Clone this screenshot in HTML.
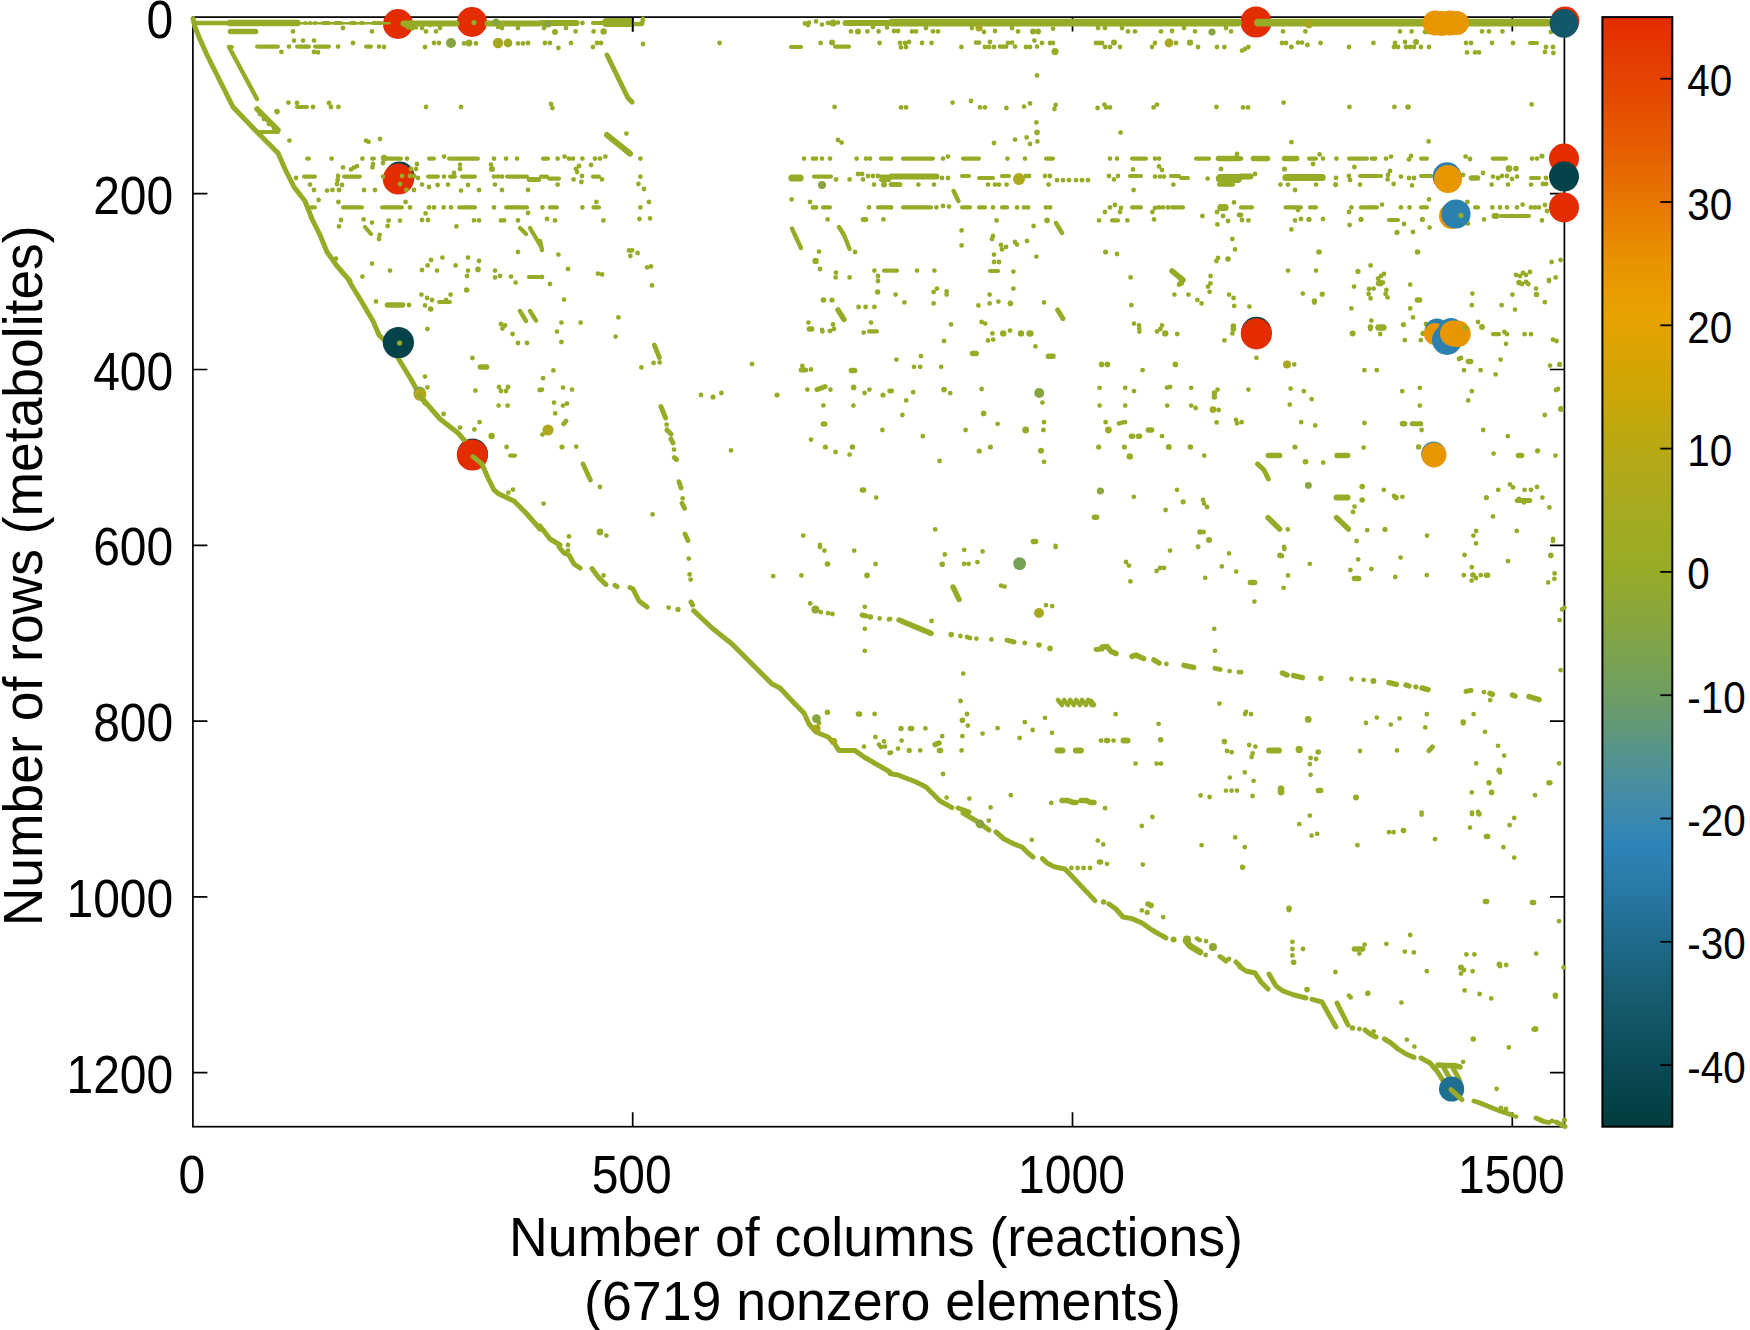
<!DOCTYPE html>
<html><head><meta charset="utf-8"><title>spy</title>
<style>html,body{margin:0;padding:0;background:#fff;}
svg{display:block;font-family:"Liberation Sans",sans-serif;}
text{fill:#000;}</style></head>
<body><svg width="1750" height="1330" viewBox="0 0 1750 1330">
<rect width="1750" height="1330" fill="#fff"/>
<rect x="192.9" y="17.1" width="1371.5" height="1109.6000000000001" fill="none" stroke="#000" stroke-width="1.7"/>
<path d="M632.7 1126.7v-14.5M632.7 17.1v14.5" stroke="#000" stroke-width="1.7"/>
<path d="M1072.5 1126.7v-14.5M1072.5 17.1v14.5" stroke="#000" stroke-width="1.7"/>
<path d="M1512.3 1126.7v-14.5M1512.3 17.1v14.5" stroke="#000" stroke-width="1.7"/>
<path d="M192.9 193.7h14.5M1564.4 193.7h-14.5" stroke="#000" stroke-width="1.7"/>
<path d="M192.9 369.5h14.5M1564.4 369.5h-14.5" stroke="#000" stroke-width="1.7"/>
<path d="M192.9 545.3h14.5M1564.4 545.3h-14.5" stroke="#000" stroke-width="1.7"/>
<path d="M192.9 721.1h14.5M1564.4 721.1h-14.5" stroke="#000" stroke-width="1.7"/>
<path d="M192.9 896.9h14.5M1564.4 896.9h-14.5" stroke="#000" stroke-width="1.7"/>
<path d="M192.9 1072.7h14.5M1564.4 1072.7h-14.5" stroke="#000" stroke-width="1.7"/>
<circle cx="398.0" cy="24.0" r="15.0" fill="#e32c00"/>
<circle cx="472.0" cy="22.0" r="15.0" fill="#e32c00"/>
<circle cx="399.6" cy="176.6" r="15.0" fill="#04434a"/>
<circle cx="398.4" cy="179.0" r="15.6" fill="#e32c00"/>
<circle cx="1256.0" cy="22.0" r="15.6" fill="#e32c00"/>
<circle cx="1565.0" cy="21.0" r="14.4" fill="#e32c00"/>
<circle cx="1564.0" cy="158.6" r="15.0" fill="#e32c00"/>
<circle cx="1564.0" cy="207.4" r="15.0" fill="#e32c00"/>
<circle cx="472.6" cy="453.8" r="15.4" fill="#04434a"/>
<circle cx="1256.4" cy="332.0" r="15.2" fill="#04434a"/>
<circle cx="1433.6" cy="454.0" r="12.4" fill="#2c80b0"/>
<path d="M193.0 18.6L195.0 27.0L199.0 37.0L207.0 55.0L220.0 81.0L233.0 107.0L257.0 132.0L278.0 153.0L285.0 169.0L294.0 187.0L305.0 201.0L312.0 219.0L320.0 235.0L327.0 252.0L337.0 266.0L350.0 281.0M405.2 25.0H414.8M529.2 179.4H538.8M607.0 55.0L628.0 98.0L632.0 102.0M863.2 219.4H865.8M891.2 184.6H899.8M349.0 281.0L360.0 299.0L373.0 321.0L379.0 335.0L385.0 341.0M398.0 358.0L412.0 381.0L420.0 396.0L440.0 419.0L458.0 433.0L465.0 441.0M540.0 526.0L550.0 539.0L560.0 545.0M661.0 406.6L665.6 418.0M667.0 430.0L671.0 434.0M671.0 439.0L673.0 443.0M674.4 457.6L676.6 459.6M817.0 389.6L825.0 386.6M801.2 370.0H805.8M1057.6 310.0L1063.0 318.6M1257.6 464.0L1264.0 470.0L1268.4 479.0M1412.2 423.8H1420.8M1517.2 500.4H1529.8M559.0 547.0L564.0 553.0L569.0 555.0L574.0 564.0L580.0 568.0M592.0 568.6L599.0 578.0L606.0 584.6M615.0 585.4L617.0 586.6M630.0 587.6L633.0 589.0L639.0 601.0L647.0 607.0M691.0 602.0L692.6 605.0M693.6 610.6L712.0 628.0L732.0 644.0L752.0 664.0L772.0 684.0L780.0 688.0L794.0 703.0L804.0 713.0L809.0 724.0L816.0 732.0L828.0 737.0L834.0 743.0L839.0 750.6L855.0 750.6L864.0 757.0L890.0 772.0M862.0 615.0L866.0 616.0M1007.0 640.2L1014.0 642.0M1096.0 649.4L1102.0 649.0M1215.0 668.4L1220.0 669.4M890.0 773.6L898.0 775.0L916.0 782.0L926.0 787.0L940.0 801.0L952.0 807.6M958.0 808.0L969.0 812.0M1466.0 691.4L1471.0 690.4M1429.0 750.6L1432.4 747.0M963.0 813.0L978.0 822.0L989.0 830.0M996.0 832.0L1004.0 839.0L1014.0 844.0L1022.0 847.0L1028.0 853.0L1033.0 857.0M1042.4 858.6L1047.0 863.0L1054.0 866.6L1060.0 868.0L1065.0 869.0L1095.0 900.6M1109.0 904.0L1116.0 909.0L1123.0 917.0L1132.0 918.6L1142.0 923.0L1152.0 930.0L1160.0 934.6L1166.0 938.0M1220.0 956.6L1226.0 961.0M1236.0 962.0L1240.0 966.0M1240.0 967.0L1246.0 971.0L1255.0 973.0L1261.0 982.0L1268.0 989.0M1269.0 974.0L1276.0 986.0L1283.0 991.0L1294.0 995.0L1306.0 998.0M1312.0 999.4L1322.0 1002.0L1328.0 1013.0L1336.0 1027.0M1337.0 1003.0L1348.0 1025.0M1365.0 1030.0L1370.0 1034.0L1376.0 1037.0M1384.4 1039.0L1391.0 1043.0L1398.0 1049.0L1406.0 1054.0L1414.0 1057.4M1421.0 1058.0L1430.0 1063.0L1437.0 1071.0L1442.0 1079.0M1444.0 1068.0L1450.0 1079.0M1453.0 1068.0L1459.0 1079.0M1442.0 1079.0L1446.0 1086.0M1450.0 1079.0L1452.0 1084.0M1459.0 1079.0L1460.0 1082.0M1474.0 1101.0L1480.0 1103.0L1500.0 1111.0L1512.0 1115.0M1536.0 1118.0L1544.0 1121.6L1549.0 1122.4M1556.0 1122.0L1565.0 1126.4" fill="none" stroke="#97ab27" stroke-width="5.0" stroke-linecap="round" stroke-linejoin="round"/>
<path d="M229.0 47.0L257.0 99.0M194.1 23.0H226.9M792.0 228.6L801.0 248.0M839.0 227.0L844.0 235.0L849.6 249.0M540.0 241.0L542.0 250.0M632.0 24.0L642.0 24.0L643.0 18.6M953.6 191.0L958.4 201.0M1056.0 223.0L1062.0 233.0M520.0 311.0L526.0 321.0M530.0 311.0L536.0 320.6" fill="none" stroke="#97ab27" stroke-width="4.4" stroke-linecap="round" stroke-linejoin="round"/>
<path d="M257.0 109.0L278.0 130.0M230.4 31.4H255.6M1172.0 271.0L1183.0 280.0M1218.4 158.6H1238.6M1253.4 158.6H1267.6M1284.4 158.6H1296.6M1471.4 178.0H1477.6M387.4 305.0H402.6M480.4 367.0H486.6M838.0 310.0L844.0 319.4M823.4 300.0H823.6M809.4 329.0H811.6M851.4 370.4H854.6M823.4 424.0H824.6M862.4 490.0H863.6M972.4 353.4H976.2M1048.4 356.2H1053.0M1033.4 541.6H1035.6M1148.4 430.0H1151.6M1131.4 436.2H1132.6M1138.4 436.2H1139.6M1094.4 517.2H1096.6M1268.0 517.6L1279.6 529.0M1336.4 517.6L1348.4 529.0M1268.4 455.6H1279.6M1305.4 461.8H1305.6M1417.4 300.0H1419.6M1536.4 294.6H1536.6M1468.4 361.4H1470.6M1402.4 423.8H1404.6M1337.0 455.6H1347.6M1518.4 455.6H1521.6M827.4 564.0H827.6M858.4 714.0H859.6M953.0 587.0L959.0 599.4M899.0 620.0L931.0 633.4M1102.0 647.0L1107.0 646.4L1111.0 651.4L1116.0 653.6M1132.0 656.4L1136.0 655.0L1140.0 657.0L1143.6 658.6M1154.0 660.0L1159.0 663.0M1184.0 665.4L1193.6 667.4M935.0 744.6L939.0 743.0M1062.0 800.6L1068.0 800.6L1073.0 802.4L1076.0 802.4M1081.0 800.6L1087.0 800.6L1090.0 802.4L1094.0 802.4M901.0 728.4H901.0M910.4 728.4H911.6M939.4 750.4H940.6M1106.4 740.6H1107.6M1282.4 673.0L1287.0 675.0M1293.6 675.6L1302.4 677.6M1389.0 682.6L1396.4 684.4M1406.0 685.0L1409.0 686.0M1422.0 688.0L1428.0 689.6M1490.0 693.4L1492.4 694.4M1512.4 695.0L1515.0 696.0M1529.0 696.6L1539.0 699.6M1250.4 582.4H1254.6M1354.4 578.6H1358.6M1486.4 575.2H1487.6M1318.4 790.6H1320.6M1099.4 862.0H1100.6M1438.0 1065.0L1446.0 1065.4L1454.0 1065.4L1460.0 1067.0M1242.6 867.2H1242.6M1403.4 830.6H1403.6M1486.4 836.6H1487.6M1485.4 901.4H1486.6M1532.4 902.4H1533.6M1354.4 949.0H1362.6" fill="none" stroke="#97ab27" stroke-width="5.5" stroke-linecap="round" stroke-linejoin="round"/>
<path d="M365.0 227.0L371.0 234.0M520.0 228.0L526.0 234.0M530.0 228.0L540.0 245.0M305.2 23.0H305.2M310.2 23.0H310.2M315.2 23.0H315.2M323.1 23.0H328.9M335.1 23.0H340.9M351.1 23.0H354.9M361.1 23.0H362.9M373.1 23.0H380.9M257.1 46.6H277.9M297.1 46.6H308.9M315.1 46.6H328.9M366.1 46.6H370.9M230.1 47.0H231.9M297.1 107.0H306.9M259.1 132.0H277.9M307.1 158.6H308.9M372.1 158.6H373.9M386.1 158.6H400.9M429.1 158.6H433.9M449.1 158.6H477.9M304.1 176.6H314.9M344.1 176.6H359.9M428.1 176.6H437.9M450.1 176.6H454.9M462.1 176.6H474.9M507.1 176.6H527.0M311.1 207.4H314.9M343.1 207.4H361.9M382.1 207.4H401.9M459.1 207.4H474.9M506.1 207.4H527.0M529.0 277.0H539.0M593.0 23.0H603.0M791.0 47.0H801.0M835.0 46.6H849.0M543.0 158.6H548.0M881.0 158.6H889.0M541.0 176.6H547.0M593.0 176.6H599.0M814.0 176.6H831.0M881.0 176.6H889.0M549.0 178.6H559.0M881.0 180.0H889.0M550.0 207.4H557.0M593.5 207.4H599.0M823.0 207.4H830.0M878.0 207.4H889.0M884.0 270.6H889.0M903.0 158.6H933.0M963.0 158.6H979.0M1046.0 158.6H1053.0M1132.0 158.6H1146.0M1196.0 158.6H1209.0M962.0 176.0H969.0M1002.0 176.0H1009.0M1130.0 176.0H1141.0M1171.0 176.0H1179.0M979.0 178.0H993.0M1181.0 178.0H1188.0M1219.0 184.6H1233.0M903.0 207.4H931.0M962.0 207.4H970.0M979.0 207.4H985.0M1002.0 207.4H1007.0M1132.0 207.4H1141.0M1172.0 207.4H1183.0M1112.0 220.4H1118.0M891.0 270.6H897.0M990.0 271.0H998.0M1530.0 43.0H1537.0M1309.0 158.6H1316.0M1349.0 158.6H1367.0M1421.0 158.6H1427.0M1492.7 158.6H1506.0M1360.0 176.0H1381.0M1421.0 176.0H1431.0M1531.0 178.0H1539.0M1241.0 207.4H1252.0M1285.5 207.4H1301.0M1310.0 207.4H1316.0M1361.0 207.4H1377.0M1421.0 207.4H1427.0M1475.0 207.4H1478.0M1501.0 216.0H1529.0M1389.0 220.0H1398.0M439.1 302.0H449.9M510.1 455.6H515.0M869.0 331.4H877.0M1493.0 334.2H1499.0" fill="none" stroke="#97ab27" stroke-width="4.2" stroke-linecap="round" stroke-linejoin="round"/>
<path d="M229.6 23.0H297.4M1029.6 333.4H1030.4M1378.6 327.4H1383.4M1186.0 941.0L1190.0 946.0L1200.0 952.0" fill="none" stroke="#97ab27" stroke-width="6.5" stroke-linecap="round" stroke-linejoin="round"/>
<path d="M299.6 23.2H389.4" fill="none" stroke="#97ab27" stroke-width="2.6" stroke-linecap="round" stroke-linejoin="round"/>
<path d="M403.5 23.4H456.5M487.5 23.4H538.5M607.0 135.0L630.0 153.6M541.5 23.0H576.5M845.5 23.0H888.5M891.5 176.6H936.5M1241.5 176.6H1250.5M1494.5 216.0H1496.5M1336.5 497.6H1347.5M1057.5 750.4H1062.5M1075.9 750.4H1080.9M1123.5 740.6H1127.5M1269.1 750.4H1278.9" fill="none" stroke="#97ab27" stroke-width="6" stroke-linecap="round" stroke-linejoin="round"/>
<path d="M606.2 22.6H629.8M1220.2 178.6H1237.8" fill="none" stroke="#97ab27" stroke-width="9" stroke-linecap="round" stroke-linejoin="round"/>
<path d="M791.8 178.0H800.2M1220.8 207.4H1225.2M1285.8 177.4H1322.2" fill="none" stroke="#97ab27" stroke-width="7" stroke-linecap="round" stroke-linejoin="round"/>
<path d="M891.9 22.6H1238.1M1257.9 22.6H1548.1" fill="none" stroke="#97ab27" stroke-width="7.6" stroke-linecap="round" stroke-linejoin="round"/>
<path d="M654.4 345.0L659.4 357.6M563.6 424.0L566.0 421.0M583.0 464.0L590.4 480.0M679.0 481.6L681.0 488.0M682.0 503.4L684.6 508.4M685.0 534.0L688.0 540.6" fill="none" stroke="#97ab27" stroke-width="4.8" stroke-linecap="round" stroke-linejoin="round"/>
<path d="M1058.0 700.0L1062.0 705.0M1064.0 700.0L1068.0 705.0M1070.0 700.0L1074.0 705.0M1076.0 700.0L1080.0 705.0M1082.0 700.0L1086.0 705.0M1088.0 700.0L1092.0 705.0M1091.0 701.0L1094.0 705.0" fill="none" stroke="#97ab27" stroke-width="4.6" stroke-linecap="round" stroke-linejoin="round"/>
<path d="M343.0 28.0h0M408.0 27.4h0M412.0 28.6h0M416.0 27.4h0M422.0 28.0h0M440.0 28.0h0M430.0 25.0h0M498.0 27.0h0M502.0 28.0h0M518.0 28.0h0M293.0 31.4h0M372.0 31.4h0M426.0 31.4h0M436.0 31.4h0M289.0 46.6h0M294.0 40.6h0M303.0 40.6h0M314.0 40.6h0M353.0 43.0h0M281.4 52.0h0M314.0 52.0h0M318.0 52.4h0M338.0 46.6h0M379.0 46.6h0M384.0 47.0h0M425.0 47.0h0M434.0 43.0h0M439.0 43.0h0M464.0 43.4h0M476.0 43.4h0M518.0 43.4h0M523.0 43.4h0M528.0 43.0h0M288.4 102.6h0M297.0 103.0h0M313.0 107.0h0M329.0 103.0h0M331.0 107.0h0M338.4 107.0h0M426.0 107.0h0M461.0 107.0h0M257.0 109.0h0M260.0 114.0h0M264.0 119.0h0M269.0 124.0h0M274.0 128.0h0M289.4 140.6h0M366.0 140.6h0M368.6 141.8h0M380.0 139.0h0M331.6 158.6h0M362.4 158.6h0M407.0 158.6h0M444.0 156.6h0M494.0 158.6h0M506.0 158.6h0M517.0 158.6h0M343.0 167.4h0M351.0 169.4h0M354.0 167.6h0M357.0 166.2h0M373.0 164.0h0M372.4 167.4h0M383.0 163.0h0M417.0 164.0h0M411.0 169.0h0M416.0 169.0h0M460.0 164.6h0M460.0 169.0h0M491.0 164.6h0M296.0 178.0h0M338.0 176.0h0M337.6 180.0h0M383.0 176.6h0M414.0 176.0h0M418.0 178.0h0M444.0 176.6h0M454.0 173.0h0M494.0 176.6h0M498.0 176.6h0M502.0 176.6h0M310.0 184.6h0M314.0 190.0h0M337.0 184.0h0M342.0 185.0h0M327.0 190.6h0M332.4 190.0h0M339.0 190.0h0M364.0 190.0h0M375.0 190.0h0M414.0 190.0h0M422.0 184.6h0M429.0 187.0h0M437.6 185.0h0M448.0 184.6h0M461.0 190.6h0M468.0 185.0h0M479.0 190.0h0M495.0 184.6h0M502.0 190.0h0M528.0 190.0h0M318.6 200.0h0M338.4 202.0h0M405.6 202.0h0M410.0 207.4h0M429.0 207.4h0M434.0 207.4h0M443.6 207.4h0M451.0 207.4h0M494.0 207.4h0M528.0 213.0h0M425.6 213.4h0M341.0 220.0h0M363.6 219.4h0M372.0 222.6h0M388.6 220.6h0M400.0 220.6h0M422.0 220.0h0M428.0 220.0h0M474.0 220.4h0M479.0 220.4h0M501.0 220.4h0M504.0 220.4h0M518.0 220.4h0M339.0 226.4h0M387.6 226.0h0M456.4 226.4h0M379.6 235.0h0M379.0 239.0h0M518.0 252.0h0M442.4 257.6h0M431.0 260.0h0M468.0 257.6h0M479.0 261.0h0M336.0 258.6h0M372.0 263.6h0M427.6 265.4h0M455.6 265.4h0M390.0 270.6h0M422.0 270.0h0M437.0 270.6h0M468.0 270.6h0M495.0 270.6h0M362.4 276.6h0M467.0 276.0h0M495.0 277.4h0M500.0 276.0h0M511.0 276.6h0M402.0 176.0h0M410.0 176.0h0M400.0 184.0h0M406.4 190.0h0M544.0 28.0h0M566.0 28.0h0M575.6 31.4h0M593.6 31.4h0M851.0 31.4h0M867.4 31.4h0M878.6 31.4h0M808.0 25.0h0M822.0 24.6h0M873.0 27.0h0M887.0 27.4h0M542.0 23.0h0M554.0 23.0h0M559.0 23.4h0M566.0 23.0h0M572.0 22.6h0M576.0 23.0h0M582.4 23.0h0M805.0 23.4h0M809.0 22.6h0M816.0 21.4h0M828.0 23.0h0M838.0 22.6h0M545.0 43.0h0M550.0 43.0h0M558.4 48.0h0M571.0 43.0h0M593.0 47.0h0M597.0 43.0h0M601.0 43.0h0M643.0 44.0h0M719.6 43.0h0M820.6 43.0h0M879.6 43.0h0M551.0 104.0h0M552.4 108.0h0M834.6 107.0h0M626.4 133.6h0M838.0 140.0h0M841.6 142.6h0M557.6 158.6h0M564.6 156.6h0M569.0 158.6h0M573.0 158.6h0M582.4 158.6h0M595.0 158.6h0M600.0 158.6h0M605.4 156.6h0M640.4 158.6h0M804.0 158.6h0M813.0 158.6h0M816.0 158.6h0M822.0 158.6h0M830.0 158.6h0M856.6 158.6h0M866.0 158.6h0M870.0 158.6h0M591.0 165.0h0M579.0 166.0h0M576.0 169.0h0M577.0 172.0h0M573.6 179.4h0M582.0 176.0h0M581.4 182.0h0M602.0 179.4h0M557.6 184.6h0M640.4 176.6h0M638.4 184.0h0M644.0 189.0h0M836.0 179.4h0M849.6 179.4h0M858.0 174.0h0M862.0 174.0h0M863.0 179.4h0M868.0 176.0h0M873.0 176.0h0M878.0 176.0h0M874.0 184.6h0M596.4 202.0h0M649.0 202.0h0M791.6 199.4h0M810.0 202.0h0M542.4 207.4h0M582.4 207.4h0M640.4 207.4h0M813.0 207.4h0M816.0 207.4h0M869.0 207.4h0M547.0 219.0h0M555.0 220.4h0M603.4 220.4h0M639.4 219.0h0M650.0 218.4h0M827.6 219.4h0M883.4 219.4h0M855.0 252.0h0M558.4 254.6h0M629.0 250.4h0M632.0 250.4h0M637.6 253.0h0M630.4 256.0h0M819.0 251.6h0M820.0 269.0h0M568.0 269.0h0M647.0 267.4h0M651.0 266.4h0M598.0 273.6h0M602.0 274.4h0M836.0 272.6h0M835.6 277.4h0M849.6 277.4h0M874.4 270.6h0M878.0 276.0h0M542.0 277.0h0M894.0 31.0h0M898.0 31.0h0M912.0 31.4h0M916.0 31.4h0M926.0 28.0h0M933.0 31.4h0M938.0 31.4h0M972.0 28.0h0M984.0 32.0h0M995.0 31.0h0M1018.0 31.4h0M1012.0 28.0h0M1053.0 28.6h0M1098.0 28.0h0M1105.0 28.0h0M1122.0 28.0h0M1128.0 31.4h0M1135.0 31.4h0M1161.0 31.4h0M1172.0 31.0h0M1184.0 28.0h0M1195.0 31.4h0M1231.0 31.4h0M1226.0 28.0h0M900.0 43.0h0M905.0 43.0h0M909.0 42.0h0M901.0 47.4h0M906.0 47.0h0M922.0 43.0h0M931.6 43.0h0M961.4 47.0h0M976.0 42.6h0M979.0 42.6h0M985.0 47.0h0M989.0 47.0h0M990.0 42.0h0M994.0 47.0h0M1000.0 46.6h0M1003.0 46.6h0M1006.0 46.6h0M1008.0 43.0h0M1012.0 42.6h0M1015.0 46.6h0M1026.0 47.0h0M1030.0 47.0h0M1034.4 40.6h0M1037.0 46.6h0M1042.0 43.0h0M1050.0 43.0h0M1053.0 43.0h0M1096.0 43.0h0M1099.0 43.0h0M1102.0 43.0h0M1105.0 47.0h0M1110.0 47.0h0M1120.0 47.0h0M1152.0 47.0h0M1155.0 43.0h0M1176.0 43.0h0M1198.0 47.0h0M1217.0 47.0h0M1224.4 47.0h0M1037.0 75.4h0M901.0 107.4h0M906.0 107.4h0M952.6 102.6h0M971.0 101.0h0M980.0 107.4h0M985.0 107.4h0M1006.4 108.0h0M1024.0 106.6h0M1030.0 103.4h0M1055.6 105.0h0M1054.4 109.0h0M1097.6 108.0h0M1104.4 104.6h0M1106.0 107.4h0M1110.0 107.4h0M1153.6 107.4h0M1157.0 104.6h0M1216.4 107.0h0M1036.4 122.4h0M1120.6 132.6h0M994.0 143.0h0M1015.0 139.6h0M1026.6 137.4h0M1030.0 144.0h0M1037.4 141.4h0M891.0 158.6h0M943.0 158.6h0M948.0 156.6h0M1007.4 158.6h0M1025.0 158.6h0M1110.0 158.6h0M1117.0 158.6h0M1155.0 158.6h0M1159.0 158.6h0M1237.0 154.0h0M1133.0 169.4h0M1159.0 166.4h0M1162.0 170.0h0M1221.0 169.0h0M942.0 178.0h0M948.0 178.0h0M1026.0 176.0h0M1029.0 176.0h0M1045.0 176.0h0M1050.0 176.0h0M1057.0 180.2h0M1063.0 180.2h0M1069.0 180.2h0M1076.0 180.2h0M1082.0 180.2h0M1088.0 180.2h0M1109.0 176.0h0M1114.0 179.4h0M1118.0 176.0h0M1155.0 176.6h0M1160.0 176.6h0M1164.0 176.6h0M1207.6 178.6h0M918.4 184.6h0M934.0 184.6h0M988.0 184.6h0M995.0 184.6h0M999.0 184.6h0M1006.6 184.6h0M1048.6 184.6h0M1173.4 184.6h0M1133.6 190.0h0M891.0 207.4h0M936.4 207.4h0M943.0 206.0h0M949.0 206.6h0M993.0 207.4h0M1017.0 207.4h0M1024.0 207.4h0M1028.0 207.4h0M1046.0 207.4h0M1050.0 207.4h0M1110.0 207.4h0M1115.0 205.0h0M1121.0 208.0h0M1155.0 208.0h0M1159.0 207.4h0M1163.0 207.4h0M1168.0 207.4h0M1105.0 212.0h0M1120.0 212.0h0M1152.4 212.0h0M1217.0 212.0h0M1223.0 216.0h0M1202.4 216.0h0M1239.0 215.0h0M996.6 220.4h0M1099.0 220.4h0M1127.4 220.4h0M1154.0 219.4h0M1228.0 221.0h0M1217.4 224.4h0M1033.6 226.0h0M961.6 230.4h0M993.0 236.0h0M992.0 239.0h0M1027.0 241.0h0M1015.0 242.0h0M1017.0 244.6h0M1001.0 245.0h0M1006.0 247.0h0M1002.0 249.4h0M961.6 245.4h0M1232.4 239.0h0M1235.0 249.4h0M994.0 254.6h0M1036.4 256.6h0M1117.0 254.0h0M994.0 262.0h0M999.0 262.0h0M1218.0 258.0h0M1216.4 261.0h0M1234.0 202.4h0M917.0 270.6h0M934.4 270.6h0M1013.4 271.6h0M1130.6 277.4h0M1210.6 276.0h0M1283.0 31.4h0M1305.4 31.4h0M1400.0 31.4h0M1411.6 31.4h0M1425.0 32.0h0M1428.0 32.0h0M1482.0 31.4h0M1489.0 31.4h0M1502.4 31.4h0M1551.0 32.0h0M1242.0 50.6h0M1245.0 49.0h0M1248.4 47.0h0M1282.0 43.0h0M1286.0 43.0h0M1291.4 47.0h0M1298.0 42.6h0M1302.0 42.6h0M1307.4 45.0h0M1320.6 43.0h0M1349.0 47.0h0M1373.4 43.0h0M1395.0 43.0h0M1394.0 47.0h0M1398.0 47.0h0M1405.0 42.0h0M1406.0 47.0h0M1410.0 47.0h0M1414.0 47.0h0M1421.0 47.0h0M1429.0 47.0h0M1466.0 43.0h0M1471.0 43.0h0M1467.0 52.4h0M1475.0 52.4h0M1479.0 52.4h0M1492.0 43.0h0M1513.0 43.0h0M1546.0 47.0h0M1553.0 47.0h0M1545.0 52.0h0M1553.4 53.0h0M1243.0 107.4h0M1248.0 107.4h0M1283.6 102.6h0M1349.4 107.0h0M1394.4 107.0h0M1531.6 104.4h0M1291.4 142.2h0M1428.6 141.4h0M1241.0 158.6h0M1319.6 154.4h0M1323.0 158.6h0M1336.4 158.6h0M1372.0 158.6h0M1375.0 158.6h0M1386.0 158.6h0M1391.0 156.6h0M1411.0 156.0h0M1409.0 159.4h0M1465.6 156.6h0M1470.0 159.0h0M1532.0 158.6h0M1537.0 158.6h0M1313.0 164.0h0M1354.4 167.0h0M1390.0 171.0h0M1483.0 173.0h0M1255.0 174.0h0M1336.0 178.0h0M1349.0 176.0h0M1350.0 180.0h0M1388.0 175.0h0M1387.6 179.4h0M1401.0 176.6h0M1409.0 178.0h0M1414.0 178.0h0M1463.0 175.0h0M1493.0 176.6h0M1498.0 178.0h0M1502.0 176.0h0M1507.0 176.0h0M1512.0 179.0h0M1517.0 176.6h0M1546.0 178.0h0M1280.4 184.6h0M1288.0 184.6h0M1316.0 184.6h0M1360.0 184.6h0M1393.6 184.0h0M1412.0 185.4h0M1491.6 184.6h0M1508.0 184.6h0M1531.0 184.6h0M1543.0 184.0h0M1546.0 184.0h0M1295.0 190.0h0M1429.0 199.4h0M1467.4 202.0h0M1298.0 210.0h0M1351.4 207.4h0M1349.0 212.0h0M1382.0 204.6h0M1401.0 207.4h0M1409.6 207.4h0M1492.4 207.4h0M1500.0 207.4h0M1507.0 207.4h0M1517.0 207.4h0M1522.6 204.6h0M1531.0 207.4h0M1535.0 207.4h0M1539.0 207.4h0M1545.0 205.0h0M1547.0 211.0h0M1484.0 219.4h0M1542.0 220.4h0M1241.0 215.0h0M1242.0 220.0h0M1248.4 220.4h0M1295.0 220.4h0M1301.0 219.0h0M1323.0 219.0h0M1349.6 225.0h0M1404.0 224.0h0M1429.6 227.6h0M1468.0 223.6h0M1291.4 229.4h0M1413.0 232.0h0M1370.6 265.4h0M1288.0 270.6h0M1316.0 270.6h0M1551.6 262.0h0M1560.6 260.0h0M1378.0 278.6h0M1381.0 276.0h0M1384.0 274.0h0M1516.0 275.0h0M1520.0 276.0h0M1523.0 273.0h0M1526.0 275.0h0M1530.0 272.0h0M1549.0 280.0h0M1555.6 277.4h0M376.0 301.4h0M409.0 305.0h0M421.4 294.6h0M427.0 298.0h0M425.0 305.4h0M432.0 300.0h0M446.0 300.0h0M450.6 294.6h0M515.6 282.6h0M427.4 329.0h0M501.0 324.0h0M505.0 325.4h0M502.4 328.6h0M512.6 334.0h0M518.0 343.0h0M527.0 343.0h0M472.4 358.0h0M425.0 376.6h0M427.4 387.4h0M475.4 390.6h0M499.0 387.0h0M501.0 391.0h0M506.0 391.0h0M508.0 387.0h0M498.6 405.6h0M507.6 405.6h0M479.6 422.2h0M474.4 429.4h0M506.6 447.0h0M513.0 489.6h0M508.4 492.6h0M443.6 414.0h0M460.0 427.6h0M539.6 390.0h0M550.0 284.0h0M652.0 285.4h0M564.0 299.6h0M618.4 317.4h0M561.4 322.6h0M580.6 322.6h0M557.0 331.6h0M615.6 336.6h0M561.4 342.0h0M653.6 363.0h0M659.6 362.4h0M641.4 367.4h0M553.4 370.4h0M543.0 378.2h0M542.0 389.6h0M563.0 387.6h0M572.0 389.6h0M554.0 402.6h0M563.0 405.6h0M567.0 403.6h0M555.2 413.4h0M542.4 434.6h0M576.2 446.6h0M600.0 487.0h0M543.6 503.6h0M652.6 514.4h0M569.0 536.4h0M568.0 545.0h0M606.4 535.6h0M666.6 424.6h0M674.0 449.6h0M682.6 498.4h0M701.0 395.0h0M721.4 393.0h0M752.0 364.0h0M731.0 450.4h0M878.0 281.0h0M858.6 307.0h0M865.6 307.0h0M874.4 307.0h0M808.4 322.6h0M822.0 330.0h0M822.4 331.4h0M833.0 324.4h0M830.0 331.0h0M834.0 329.0h0M871.0 322.6h0M863.6 332.6h0M802.4 366.0h0M811.0 369.4h0M807.4 389.6h0M830.4 389.6h0M864.6 393.0h0M869.4 389.6h0M889.6 391.0h0M823.4 405.4h0M853.4 405.6h0M882.4 430.0h0M811.0 439.6h0M835.6 452.0h0M849.6 454.6h0M876.2 497.6h0M803.2 535.6h0M820.0 545.0h0M895.6 294.6h0M904.4 302.4h0M937.0 288.6h0M933.6 292.0h0M933.6 303.4h0M946.6 291.4h0M946.6 294.6h0M989.6 294.6h0M1013.4 288.6h0M978.4 305.4h0M989.6 303.4h0M998.4 301.6h0M1044.0 302.4h0M951.0 324.4h0M981.6 322.0h0M985.2 323.6h0M992.4 333.4h0M1010.0 330.6h0M988.0 340.4h0M993.2 339.6h0M944.0 341.0h0M1035.4 346.4h0M896.4 359.6h0M921.0 356.2h0M914.0 366.8h0M920.2 366.8h0M941.2 366.8h0M891.6 391.0h0M913.2 392.2h0M950.2 393.2h0M981.6 389.0h0M906.2 400.4h0M902.4 415.0h0M1042.4 402.6h0M997.6 423.8h0M965.6 430.0h0M1044.0 422.2h0M1043.4 430.0h0M922.8 436.2h0M1044.0 461.8h0M939.6 461.0h0M935.2 529.4h0M1055.6 546.0h0M1131.4 305.2h0M1179.0 284.6h0M1210.4 283.4h0M1208.0 286.6h0M1209.6 291.8h0M1174.4 294.6h0M1188.4 294.6h0M1197.4 300.0h0M1201.6 303.4h0M1229.0 294.6h0M1233.6 298.0h0M1234.2 306.0h0M1134.0 323.6h0M1139.0 325.4h0M1139.2 328.6h0M1139.4 331.6h0M1162.0 325.4h0M1157.0 331.4h0M1160.4 329.0h0M1177.2 334.0h0M1232.4 333.4h0M1224.4 340.4h0M1142.6 370.2h0M1099.6 387.8h0M1125.2 387.8h0M1134.0 391.2h0M1167.0 387.6h0M1170.0 387.0h0M1191.2 387.8h0M1217.6 389.6h0M1099.6 405.6h0M1125.2 405.6h0M1167.2 405.6h0M1191.2 405.6h0M1195.6 408.0h0M1218.6 410.0h0M1105.6 422.2h0M1119.0 423.4h0M1122.0 422.6h0M1125.0 422.2h0M1216.6 422.4h0M1236.0 420.0h0M1237.0 423.4h0M1162.0 436.2h0M1204.2 455.6h0M1133.8 496.8h0M1177.0 489.8h0M1203.0 500.0h0M1204.0 503.4h0M1207.0 507.0h0M1165.6 510.0h0M1203.6 532.0h0M1198.0 546.6h0M1249.4 306.6h0M1256.4 357.8h0M1294.2 364.4h0M1248.4 389.6h0M1290.6 388.6h0M1303.8 391.2h0M1311.6 399.2h0M1289.8 404.6h0M1241.6 422.2h0M1301.2 422.2h0M1315.2 425.4h0M1323.2 462.6h0M1287.8 529.4h0M1284.0 547.0h0M1302.8 293.6h0M1314.4 302.6h0M1354.0 286.6h0M1351.4 308.4h0M1369.0 289.0h0M1373.6 288.6h0M1368.6 294.0h0M1370.6 298.4h0M1378.0 283.4h0M1383.0 282.6h0M1386.4 290.0h0M1385.6 294.0h0M1387.6 297.4h0M1410.2 284.6h0M1410.2 308.4h0M1413.0 317.4h0M1371.4 320.6h0M1370.4 329.0h0M1380.2 334.0h0M1404.8 340.2h0M1420.8 340.2h0M1426.0 324.0h0M1472.4 293.6h0M1471.8 305.2h0M1478.0 322.0h0M1501.6 305.2h0M1512.4 294.6h0M1515.0 309.6h0M1536.0 288.6h0M1544.8 302.2h0M1549.0 281.0h0M1522.0 284.0h0M1526.0 282.0h0M1528.4 284.0h0M1504.4 332.0h0M1507.0 334.2h0M1524.6 334.2h0M1531.0 334.2h0M1506.0 343.8h0M1553.0 339.6h0M1556.6 341.0h0M1461.0 358.0h0M1459.0 359.0h0M1500.6 359.6h0M1464.0 370.2h0M1480.6 370.2h0M1495.6 374.4h0M1550.0 365.6h0M1364.4 370.2h0M1376.8 370.2h0M1402.2 391.2h0M1419.8 387.8h0M1419.8 405.6h0M1471.8 391.2h0M1468.2 400.4h0M1556.0 390.0h0M1558.0 389.0h0M1544.8 415.0h0M1364.4 423.0h0M1421.6 430.0h0M1483.2 430.0h0M1507.8 436.2h0M1363.6 447.6h0M1493.6 453.6h0M1555.4 455.6h0M1383.8 489.8h0M1394.0 496.0h0M1402.4 496.8h0M1354.6 506.6h0M1353.0 512.0h0M1367.2 530.2h0M1356.6 541.0h0M1427.0 535.6h0M1498.2 489.8h0M1510.0 484.4h0M1513.0 487.4h0M1524.6 489.8h0M1531.0 489.8h0M1537.0 487.0h0M1519.0 499.0h0M1524.0 502.4h0M1542.4 497.6h0M1549.4 507.4h0M1493.0 516.4h0M1476.2 531.0h0M1473.4 535.6h0M1476.0 543.4h0M1516.8 531.0h0M1553.0 539.0h0M1553.0 541.0h0M668.6 607.6h0M688.8 558.6h0M689.6 574.4h0M690.6 579.6h0M603.6 575.4h0M568.0 550.6h0M824.4 550.6h0M854.2 550.6h0M820.0 547.0h0M875.6 564.0h0M773.2 576.2h0M801.4 575.4h0M810.2 603.4h0M815.0 611.0h0M820.8 612.2h0M828.0 613.2h0M832.4 614.0h0M864.8 606.8h0M879.6 618.4h0M889.0 619.4h0M864.8 628.8h0M864.8 650.8h0M874.6 714.0h0M819.0 723.0h0M875.4 737.0h0M864.0 746.6h0M884.0 741.4h0M879.0 744.6h0M881.0 747.0h0M885.0 746.6h0M889.6 753.0h0M944.8 554.4h0M964.2 549.8h0M982.6 551.4h0M964.0 563.8h0M968.6 563.8h0M977.4 562.2h0M1055.6 547.0h0M1001.0 585.6h0M1004.6 586.6h0M1046.0 605.2h0M1052.2 606.2h0M890.0 619.0h0M931.6 621.0h0M960.4 636.0h0M967.0 637.0h0M970.0 638.0h0M976.4 638.6h0M991.4 639.4h0M1024.8 643.0h0M1166.4 664.0h0M1229.6 671.2h0M1239.0 672.2h0M963.2 673.6h0M960.6 701.0h0M967.0 714.0h0M967.8 725.6h0M962.4 736.2h0M961.6 750.4h0M1115.6 714.2h0M1045.0 717.8h0M1024.8 722.2h0M1032.6 730.0h0M1052.0 732.8h0M1019.6 738.0h0M997.6 728.2h0M982.6 733.6h0M925.4 728.4h0M901.6 740.6h0M942.2 736.2h0M898.0 748.6h0M891.0 752.6h0M920.2 750.4h0M1101.0 740.6h0M1113.6 740.6h0M1158.6 723.8h0M1135.6 763.6h0M1156.6 763.6h0M1161.0 763.6h0M1219.4 703.6h0M1214.2 628.8h0M1215.0 650.8h0M1227.0 751.0h0M1231.6 752.2h0M1229.8 777.6h0M1226.0 790.6h0M1231.6 790.6h0M1237.0 790.6h0M1200.6 795.4h0M1209.6 797.0h0M1170.0 550.6h0M1198.2 547.0h0M1229.0 553.4h0M1126.0 562.0h0M1129.0 565.6h0M1130.4 581.4h0M1156.6 571.0h0M1160.0 568.0h0M1164.0 568.0h0M1221.8 566.4h0M1236.2 571.6h0M1205.2 577.8h0M943.0 774.0h0M946.6 797.6h0M969.4 798.6h0M990.6 807.4h0M1010.8 795.2h0M1051.2 803.0h0M1105.0 808.2h0M1284.4 549.0h0M1282.0 556.0h0M1309.8 563.8h0M1288.0 575.4h0M1283.6 587.8h0M1254.4 601.6h0M1358.2 559.4h0M1350.4 570.0h0M1371.4 569.0h0M1400.6 557.6h0M1395.2 577.0h0M1426.8 575.2h0M1464.6 555.0h0M1471.8 567.2h0M1463.8 575.2h0M1476.0 578.0h0M1471.6 580.6h0M1480.8 575.2h0M1508.0 561.2h0M1554.6 573.4h0M1554.4 578.8h0M1548.2 582.4h0M1562.0 609.4h0M1564.4 607.6h0M1559.6 620.2h0M1560.6 670.2h0M1241.0 672.2h0M1351.4 679.0h0M1363.6 679.8h0M1484.0 692.2h0M1490.2 700.2h0M1246.0 712.0h0M1245.0 714.0h0M1251.0 714.2h0M1366.0 723.0h0M1376.8 717.6h0M1390.8 724.6h0M1399.6 718.4h0M1426.8 714.2h0M1425.2 727.4h0M1463.2 723.4h0M1473.6 714.2h0M1485.0 731.8h0M1249.2 745.0h0M1255.4 746.6h0M1252.6 753.4h0M1251.6 757.0h0M1310.6 758.0h0M1316.0 759.0h0M1309.8 764.2h0M1310.6 774.8h0M1244.8 772.4h0M1253.6 780.8h0M1252.6 796.0h0M1360.0 751.0h0M1397.0 750.4h0M1498.0 745.8h0M1504.2 755.6h0M1476.2 763.4h0M1500.0 772.4h0M1471.8 792.4h0M1535.0 795.2h0M1550.4 782.8h0M1559.0 763.4h0M1421.6 812.6h0M1472.0 812.6h0M1478.0 812.0h0M988.8 820.6h0M1031.8 839.8h0M1071.4 868.0h0M1077.6 868.0h0M1083.6 868.0h0M1090.0 868.0h0M1107.0 863.8h0M1097.8 840.6h0M1103.2 844.4h0M1141.8 826.0h0M1152.4 817.0h0M1142.8 864.6h0M1201.6 845.2h0M1235.2 837.4h0M1205.6 955.0h0M1229.0 959.0h0M1141.8 910.4h0M1163.2 917.2h0M1197.0 938.6h0M1199.6 940.2h0M1206.0 941.2h0M1309.8 815.6h0M1299.2 824.2h0M1311.6 835.6h0M1317.2 833.8h0M1244.8 847.2h0M1357.4 845.2h0M1389.0 832.2h0M1393.6 832.2h0M1421.6 814.6h0M1435.0 839.2h0M1470.0 827.6h0M1472.0 814.0h0M1514.2 818.0h0M1509.6 825.2h0M1503.4 847.2h0M1514.2 857.6h0M1289.0 910.2h0M1559.0 921.2h0M1292.4 941.8h0M1292.4 949.0h0M1292.4 955.4h0M1303.0 949.0h0M1364.6 944.6h0M1359.4 953.6h0M1386.4 943.8h0M1410.2 935.0h0M1404.8 951.6h0M1413.8 952.4h0M1466.4 954.4h0M1474.4 954.4h0M1536.2 953.6h0M1500.0 966.2h0M1506.2 965.0h0M1464.0 970.0h0M1461.0 973.6h0M1472.6 971.2h0M1426.8 971.2h0M1335.4 972.0h0M1563.6 967.4h0M1349.0 995.6h0M1350.6 997.4h0M1401.4 1002.6h0M1464.6 990.4h0M1479.6 994.0h0M1491.2 998.4h0M1555.4 996.8h0M1533.6 1029.4h0M1406.8 1039.6h0M1414.4 1046.6h0M1508.8 1047.4h0M1463.2 1061.8h0M1359.4 1029.0h0M1373.6 1031.4h0M1496.6 1088.8h0M1516.0 1116.6h0M1552.0 1121.0h0M1501.0 1108.0h0M1506.0 1109.0h0" fill="none" stroke="#97ab27" stroke-width="4.8" stroke-linecap="round"/>
<circle cx="451.0" cy="43.0" r="5.0" fill="#86a440"/>
<circle cx="469.0" cy="43.0" r="3.4" fill="#97ab27"/>
<circle cx="498.0" cy="43.0" r="5.2" fill="#a8a820"/>
<circle cx="508.0" cy="43.0" r="4.4" fill="#a0a822"/>
<circle cx="277.0" cy="111.6" r="2.8" fill="#97ab27"/>
<circle cx="384.0" cy="158.0" r="3.2" fill="#97ab27"/>
<circle cx="492.0" cy="169.0" r="3.0" fill="#97ab27"/>
<circle cx="478.0" cy="269.4" r="2.8" fill="#97ab27"/>
<circle cx="474.0" cy="22.6" r="2.6" fill="#97ab27"/>
<circle cx="496.0" cy="22.0" r="3.6" fill="#86a440"/>
<circle cx="555.0" cy="32.0" r="3.0" fill="#97ab27"/>
<circle cx="603.6" cy="31.4" r="3.2" fill="#97ab27"/>
<circle cx="858.0" cy="31.4" r="3.0" fill="#97ab27"/>
<circle cx="548.0" cy="24.0" r="3.6" fill="#86a440"/>
<circle cx="833.0" cy="23.0" r="3.6" fill="#97ab27"/>
<circle cx="832.0" cy="42.6" r="3.0" fill="#97ab27"/>
<circle cx="884.0" cy="184.6" r="3.0" fill="#97ab27"/>
<circle cx="822.0" cy="185.0" r="4.0" fill="#86a440"/>
<circle cx="815.6" cy="261.0" r="3.2" fill="#97ab27"/>
<circle cx="979.0" cy="28.0" r="3.6" fill="#a8a820"/>
<circle cx="1033.0" cy="31.4" r="3.0" fill="#97ab27"/>
<circle cx="1038.0" cy="31.4" r="3.0" fill="#97ab27"/>
<circle cx="1212.0" cy="32.0" r="3.6" fill="#86a440"/>
<circle cx="1055.0" cy="51.6" r="3.6" fill="#97ab27"/>
<circle cx="1114.0" cy="42.6" r="3.0" fill="#97ab27"/>
<circle cx="1169.0" cy="43.0" r="4.4" fill="#a8a820"/>
<circle cx="1190.0" cy="42.6" r="3.2" fill="#97ab27"/>
<circle cx="1037.0" cy="132.4" r="2.8" fill="#97ab27"/>
<circle cx="1019.0" cy="179.0" r="6.0" fill="#aeaa1e"/>
<circle cx="1047.0" cy="220.4" r="2.8" fill="#97ab27"/>
<circle cx="1105.6" cy="252.0" r="2.6" fill="#97ab27"/>
<circle cx="1228.0" cy="259.0" r="2.8" fill="#97ab27"/>
<circle cx="1309.0" cy="24.0" r="4.4" fill="#a8a820"/>
<circle cx="1416.0" cy="42.0" r="3.0" fill="#97ab27"/>
<circle cx="1408.0" cy="107.0" r="2.8" fill="#97ab27"/>
<circle cx="1542.0" cy="156.0" r="2.6" fill="#97ab27"/>
<circle cx="1284.4" cy="169.0" r="2.6" fill="#97ab27"/>
<circle cx="1509.0" cy="168.6" r="3.4" fill="#97ab27"/>
<circle cx="1516.0" cy="168.6" r="2.8" fill="#97ab27"/>
<circle cx="1335.6" cy="184.6" r="2.6" fill="#97ab27"/>
<circle cx="1309.0" cy="219.4" r="2.6" fill="#97ab27"/>
<circle cx="1361.0" cy="219.4" r="2.6" fill="#97ab27"/>
<circle cx="1422.4" cy="219.4" r="2.6" fill="#97ab27"/>
<circle cx="1397.0" cy="232.4" r="2.6" fill="#97ab27"/>
<circle cx="1319.0" cy="252.0" r="2.8" fill="#97ab27"/>
<circle cx="1417.6" cy="252.0" r="2.8" fill="#97ab27"/>
<circle cx="1358.0" cy="271.4" r="2.6" fill="#97ab27"/>
<circle cx="1564.0" cy="23.4" r="14.4" fill="#13576b"/>
<circle cx="1564.0" cy="176.6" r="15.0" fill="#04434a"/>
<circle cx="1435.0" cy="23.0" r="12.4" fill="#e89600"/>
<circle cx="1442.0" cy="23.4" r="12.4" fill="#e89600"/>
<circle cx="1450.0" cy="23.0" r="12.4" fill="#e89600"/>
<circle cx="1457.0" cy="23.0" r="12.0" fill="#e89600"/>
<circle cx="1447.0" cy="176.6" r="14.4" fill="#2c80b0"/>
<circle cx="1448.0" cy="179.0" r="14.0" fill="#e89600"/>
<circle cx="1452.0" cy="216.0" r="13.0" fill="#e89600"/>
<circle cx="1456.0" cy="214.0" r="14.6" fill="#2c80b0"/>
<circle cx="1461.0" cy="215.4" r="2.6" fill="#97ab27"/>
<circle cx="430.6" cy="309.0" r="2.8" fill="#97ab27"/>
<circle cx="466.6" cy="290.0" r="2.8" fill="#97ab27"/>
<circle cx="491.6" cy="436.0" r="3.2" fill="#97ab27"/>
<circle cx="419.6" cy="392.6" r="6.0" fill="#6e9e62"/>
<circle cx="420.0" cy="394.4" r="6.4" fill="#b0a81e"/>
<circle cx="398.4" cy="342.6" r="15.6" fill="#04434a"/>
<circle cx="399.6" cy="343.0" r="2.6" fill="#97ab27"/>
<circle cx="472.4" cy="455.0" r="15.6" fill="#e32c00"/>
<circle cx="562.0" cy="447.0" r="2.6" fill="#97ab27"/>
<circle cx="600.0" cy="532.0" r="3.4" fill="#97ab27"/>
<circle cx="713.0" cy="397.0" r="2.6" fill="#97ab27"/>
<circle cx="777.0" cy="395.0" r="2.6" fill="#97ab27"/>
<circle cx="877.6" cy="292.0" r="2.8" fill="#97ab27"/>
<circle cx="832.0" cy="300.0" r="2.6" fill="#97ab27"/>
<circle cx="853.6" cy="387.4" r="2.8" fill="#97ab27"/>
<circle cx="883.0" cy="395.0" r="2.6" fill="#97ab27"/>
<circle cx="825.4" cy="447.0" r="2.6" fill="#97ab27"/>
<circle cx="852.4" cy="447.0" r="2.8" fill="#97ab27"/>
<circle cx="548.0" cy="430.0" r="5.6" fill="#b0a81e"/>
<circle cx="1010.4" cy="303.4" r="2.8" fill="#97ab27"/>
<circle cx="1003.2" cy="333.4" r="3.2" fill="#97ab27"/>
<circle cx="1021.0" cy="333.4" r="3.2" fill="#97ab27"/>
<circle cx="944.0" cy="389.6" r="2.8" fill="#97ab27"/>
<circle cx="1039.2" cy="393.0" r="5.0" fill="#86a440"/>
<circle cx="983.6" cy="413.4" r="2.8" fill="#97ab27"/>
<circle cx="1025.6" cy="430.0" r="3.4" fill="#97ab27"/>
<circle cx="979.2" cy="451.0" r="2.6" fill="#97ab27"/>
<circle cx="990.4" cy="447.0" r="2.6" fill="#97ab27"/>
<circle cx="1041.0" cy="450.8" r="3.0" fill="#97ab27"/>
<circle cx="1181.0" cy="283.0" r="3.0" fill="#97ab27"/>
<circle cx="1165.2" cy="333.4" r="3.2" fill="#97ab27"/>
<circle cx="1233.4" cy="326.0" r="2.8" fill="#97ab27"/>
<circle cx="1233.4" cy="329.0" r="2.8" fill="#97ab27"/>
<circle cx="1101.6" cy="364.4" r="2.8" fill="#97ab27"/>
<circle cx="1107.4" cy="364.4" r="2.8" fill="#97ab27"/>
<circle cx="1175.4" cy="364.4" r="2.8" fill="#97ab27"/>
<circle cx="1214.4" cy="393.0" r="2.8" fill="#97ab27"/>
<circle cx="1214.4" cy="397.0" r="2.8" fill="#97ab27"/>
<circle cx="1213.0" cy="409.6" r="3.4" fill="#a2a922"/>
<circle cx="1108.4" cy="430.0" r="3.4" fill="#a2a922"/>
<circle cx="1098.6" cy="447.0" r="2.6" fill="#97ab27"/>
<circle cx="1124.4" cy="447.0" r="2.6" fill="#97ab27"/>
<circle cx="1168.8" cy="447.0" r="3.0" fill="#97ab27"/>
<circle cx="1190.4" cy="447.0" r="2.8" fill="#97ab27"/>
<circle cx="1129.8" cy="456.4" r="3.2" fill="#97ab27"/>
<circle cx="1100.4" cy="491.0" r="3.6" fill="#8aa63a"/>
<circle cx="1183.2" cy="501.8" r="2.6" fill="#97ab27"/>
<circle cx="1200.0" cy="532.0" r="2.8" fill="#97ab27"/>
<circle cx="1209.0" cy="540.0" r="3.0" fill="#97ab27"/>
<circle cx="1295.0" cy="447.0" r="2.6" fill="#97ab27"/>
<circle cx="1322.2" cy="294.2" r="2.6" fill="#97ab27"/>
<circle cx="1314.4" cy="301.0" r="2.8" fill="#97ab27"/>
<circle cx="1380.0" cy="283.0" r="3.6" fill="#97ab27"/>
<circle cx="1370.4" cy="327.0" r="2.8" fill="#97ab27"/>
<circle cx="1403.4" cy="324.6" r="2.6" fill="#97ab27"/>
<circle cx="1352.6" cy="333.4" r="3.0" fill="#97ab27"/>
<circle cx="1423.0" cy="333.4" r="2.6" fill="#97ab27"/>
<circle cx="1482.0" cy="327.0" r="3.0" fill="#97ab27"/>
<circle cx="1519.0" cy="282.6" r="2.8" fill="#97ab27"/>
<circle cx="1559.6" cy="364.4" r="2.6" fill="#97ab27"/>
<circle cx="1561.0" cy="409.0" r="3.0" fill="#97ab27"/>
<circle cx="1418.6" cy="447.0" r="2.8" fill="#97ab27"/>
<circle cx="1537.6" cy="450.8" r="2.6" fill="#97ab27"/>
<circle cx="1362.2" cy="486.6" r="2.8" fill="#97ab27"/>
<circle cx="1396.0" cy="497.6" r="2.8" fill="#97ab27"/>
<circle cx="1362.2" cy="500.0" r="2.8" fill="#97ab27"/>
<circle cx="1385.0" cy="529.4" r="2.6" fill="#97ab27"/>
<circle cx="1486.4" cy="497.6" r="2.6" fill="#97ab27"/>
<circle cx="1256.4" cy="333.8" r="15.6" fill="#e32c00"/>
<circle cx="1287.0" cy="364.4" r="4.0" fill="#a8a820"/>
<circle cx="1308.4" cy="485.4" r="3.4" fill="#86a440"/>
<circle cx="1437.0" cy="331.0" r="12.4" fill="#2c80b0"/>
<circle cx="1435.0" cy="334.0" r="11.0" fill="#e89600"/>
<circle cx="1447.0" cy="340.0" r="15.0" fill="#2c80b0"/>
<circle cx="1451.0" cy="331.0" r="13.0" fill="#2c80b0"/>
<circle cx="1453.0" cy="333.4" r="13.0" fill="#e89600"/>
<circle cx="1457.6" cy="333.8" r="13.2" fill="#e89600"/>
<circle cx="1465.0" cy="328.0" r="2.6" fill="#97ab27"/>
<circle cx="1434.0" cy="455.0" r="12.4" fill="#e89600"/>
<circle cx="678.0" cy="609.4" r="2.6" fill="#97ab27"/>
<circle cx="867.0" cy="575.4" r="2.8" fill="#97ab27"/>
<circle cx="870.4" cy="617.0" r="2.8" fill="#97ab27"/>
<circle cx="827.4" cy="712.2" r="2.8" fill="#97ab27"/>
<circle cx="815.4" cy="609.4" r="4.0" fill="#8ea832"/>
<circle cx="816.4" cy="718.6" r="4.4" fill="#86a440"/>
<circle cx="816.6" cy="728.6" r="4.0" fill="#a8a820"/>
<circle cx="833.6" cy="741.4" r="3.6" fill="#a4a922"/>
<circle cx="942.2" cy="564.2" r="2.8" fill="#97ab27"/>
<circle cx="951.2" cy="634.6" r="2.8" fill="#97ab27"/>
<circle cx="1039.0" cy="645.0" r="2.8" fill="#97ab27"/>
<circle cx="1050.0" cy="648.4" r="2.8" fill="#97ab27"/>
<circle cx="962.4" cy="720.2" r="2.8" fill="#97ab27"/>
<circle cx="909.2" cy="750.4" r="2.6" fill="#97ab27"/>
<circle cx="1160.6" cy="739.8" r="2.8" fill="#97ab27"/>
<circle cx="1224.4" cy="741.6" r="2.8" fill="#97ab27"/>
<circle cx="1019.6" cy="563.6" r="6.4" fill="#76a055"/>
<circle cx="1039.0" cy="613.0" r="5.0" fill="#a8a820"/>
<circle cx="1280.0" cy="555.4" r="2.8" fill="#97ab27"/>
<circle cx="1473.0" cy="575.0" r="2.8" fill="#97ab27"/>
<circle cx="1550.8" cy="555.4" r="2.8" fill="#97ab27"/>
<circle cx="1320.8" cy="678.2" r="2.8" fill="#97ab27"/>
<circle cx="1373.4" cy="681.0" r="3.0" fill="#97ab27"/>
<circle cx="1415.8" cy="686.8" r="2.6" fill="#97ab27"/>
<circle cx="1308.2" cy="719.4" r="3.4" fill="#97ab27"/>
<circle cx="1463.2" cy="722.0" r="2.8" fill="#97ab27"/>
<circle cx="1299.2" cy="749.4" r="3.6" fill="#97ab27"/>
<circle cx="1318.2" cy="752.0" r="2.8" fill="#97ab27"/>
<circle cx="1281.0" cy="789.0" r="3.4" fill="#97ab27"/>
<circle cx="1281.0" cy="792.0" r="3.4" fill="#97ab27"/>
<circle cx="1356.0" cy="797.4" r="3.0" fill="#97ab27"/>
<circle cx="1499.2" cy="770.4" r="2.8" fill="#97ab27"/>
<circle cx="1489.0" cy="782.8" r="2.8" fill="#97ab27"/>
<circle cx="1491.6" cy="792.4" r="2.8" fill="#97ab27"/>
<circle cx="1549.0" cy="782.8" r="2.8" fill="#97ab27"/>
<circle cx="1103.6" cy="902.0" r="2.8" fill="#97ab27"/>
<circle cx="1173.6" cy="939.4" r="3.0" fill="#97ab27"/>
<circle cx="1148.0" cy="904.0" r="2.8" fill="#97ab27"/>
<circle cx="1151.0" cy="905.4" r="2.8" fill="#97ab27"/>
<circle cx="1147.2" cy="912.4" r="2.6" fill="#97ab27"/>
<circle cx="1187.0" cy="939.4" r="4.0" fill="#97ab27"/>
<circle cx="980.0" cy="824.0" r="4.4" fill="#86a440"/>
<circle cx="1213.0" cy="947.0" r="4.0" fill="#8ea832"/>
<circle cx="1479.0" cy="814.0" r="2.8" fill="#97ab27"/>
<circle cx="1289.0" cy="908.4" r="2.8" fill="#97ab27"/>
<circle cx="1293.6" cy="962.2" r="2.8" fill="#97ab27"/>
<circle cx="1499.4" cy="964.4" r="2.8" fill="#97ab27"/>
<circle cx="1461.0" cy="967.4" r="3.0" fill="#97ab27"/>
<circle cx="1307.0" cy="989.6" r="2.8" fill="#97ab27"/>
<circle cx="1367.8" cy="993.2" r="2.8" fill="#97ab27"/>
<circle cx="1555.4" cy="995.4" r="2.8" fill="#97ab27"/>
<circle cx="1535.4" cy="1029.0" r="3.0" fill="#97ab27"/>
<circle cx="1473.2" cy="1039.0" r="2.8" fill="#97ab27"/>
<circle cx="1352.4" cy="1028.0" r="2.8" fill="#97ab27"/>
<circle cx="1564.4" cy="1120.0" r="2.6" fill="#97ab27"/>
<circle cx="1451.6" cy="1089.0" r="12.6" fill="#1f6f93"/>
<path d="M473.0 456.6L482.0 464.0L488.0 478.0L494.0 490.0L499.0 494.0L514.0 501.0L526.0 513.0L540.0 529.0" fill="none" stroke="#97ab27" stroke-width="5.0" stroke-linecap="round" stroke-linejoin="round"/>
<path d="M420.0 396.0L425.0 403.0" fill="none" stroke="#97ab27" stroke-width="5.0" stroke-linecap="round" stroke-linejoin="round"/>
<path d="M1451.0 1089.6L1462.0 1099.6" fill="none" stroke="#97ab27" stroke-width="5.0" stroke-linecap="round" stroke-linejoin="round"/>
<path d="M632.7 17.1v14.5" stroke="#000" stroke-width="1.7"/>
<text transform="translate(191.9,1193.2) scale(1,1.1)" text-anchor="middle" font-size="48">0</text>
<text transform="translate(631.7,1193.2) scale(1,1.1)" text-anchor="middle" font-size="48">500</text>
<text transform="translate(1071.5,1193.2) scale(1,1.1)" text-anchor="middle" font-size="48">1000</text>
<text transform="translate(1511.3,1193.2) scale(1,1.1)" text-anchor="middle" font-size="48">1500</text>
<text transform="translate(173.2,37.9) scale(1,1.1)" text-anchor="end" font-size="48">0</text>
<text transform="translate(173.2,213.7) scale(1,1.1)" text-anchor="end" font-size="48">200</text>
<text transform="translate(173.2,389.5) scale(1,1.1)" text-anchor="end" font-size="48">400</text>
<text transform="translate(173.2,565.3) scale(1,1.1)" text-anchor="end" font-size="48">600</text>
<text transform="translate(173.2,741.1) scale(1,1.1)" text-anchor="end" font-size="48">800</text>
<text transform="translate(173.2,916.9) scale(1,1.1)" text-anchor="end" font-size="48">1000</text>
<text transform="translate(173.2,1092.7) scale(1,1.1)" text-anchor="end" font-size="48">1200</text>
<text transform="translate(876.0,1255.6) scale(1,1.04)" text-anchor="middle" font-size="53.7">Number of columns (reactions)</text>
<text transform="translate(882.5,1320.4) scale(1,1.04)" text-anchor="middle" font-size="53.7">(6719 nonzero elements)</text>
<text transform="translate(41.8,575.8) rotate(-90) scale(1,1.04)" text-anchor="middle" font-size="53.45">Number of rows (metabolites)</text>
<defs><linearGradient id="cb" x1="0" y1="0" x2="0" y2="1"><stop offset="0.0000" stop-color="#e32c00"/><stop offset="0.1111" stop-color="#e65a00"/><stop offset="0.2222" stop-color="#e89400"/><stop offset="0.2667" stop-color="#e8a200"/><stop offset="0.3333" stop-color="#cea604"/><stop offset="0.3889" stop-color="#b8a814"/><stop offset="0.4444" stop-color="#a5ab20"/><stop offset="0.5000" stop-color="#97ab27"/><stop offset="0.6111" stop-color="#6e9e62"/><stop offset="0.6889" stop-color="#4a8fa0"/><stop offset="0.7444" stop-color="#2f84b8"/><stop offset="0.7889" stop-color="#2878a4"/><stop offset="0.8333" stop-color="#1e6a8a"/><stop offset="0.8889" stop-color="#155a6c"/><stop offset="0.9444" stop-color="#0a4a55"/><stop offset="1.0000" stop-color="#003c3c"/></linearGradient></defs>
<rect x="1602.4" y="17.1" width="69.89999999999986" height="1109.6000000000001" fill="url(#cb)" stroke="#000" stroke-width="2"/>
<path d="M1672.3 1065.1h-12" stroke="#000" stroke-width="1.8"/>
<text transform="translate(1687.3,1082.6) scale(1,1.1)" text-anchor="start" font-size="40.4">-40</text>
<path d="M1672.3 941.8h-12" stroke="#000" stroke-width="1.8"/>
<text transform="translate(1687.3,959.3) scale(1,1.1)" text-anchor="start" font-size="40.4">-30</text>
<path d="M1672.3 818.5h-12" stroke="#000" stroke-width="1.8"/>
<text transform="translate(1687.3,836.0) scale(1,1.1)" text-anchor="start" font-size="40.4">-20</text>
<path d="M1672.3 695.2h-12" stroke="#000" stroke-width="1.8"/>
<text transform="translate(1687.3,712.7) scale(1,1.1)" text-anchor="start" font-size="40.4">-10</text>
<path d="M1672.3 571.9h-12" stroke="#000" stroke-width="1.8"/>
<text transform="translate(1687.3,589.4) scale(1,1.1)" text-anchor="start" font-size="40.4">0</text>
<path d="M1672.3 448.6h-12" stroke="#000" stroke-width="1.8"/>
<text transform="translate(1687.3,466.1) scale(1,1.1)" text-anchor="start" font-size="40.4">10</text>
<path d="M1672.3 325.3h-12" stroke="#000" stroke-width="1.8"/>
<text transform="translate(1687.3,342.8) scale(1,1.1)" text-anchor="start" font-size="40.4">20</text>
<path d="M1672.3 202.0h-12" stroke="#000" stroke-width="1.8"/>
<text transform="translate(1687.3,219.5) scale(1,1.1)" text-anchor="start" font-size="40.4">30</text>
<path d="M1672.3 78.7h-12" stroke="#000" stroke-width="1.8"/>
<text transform="translate(1687.3,96.2) scale(1,1.1)" text-anchor="start" font-size="40.4">40</text>
</svg></body></html>
